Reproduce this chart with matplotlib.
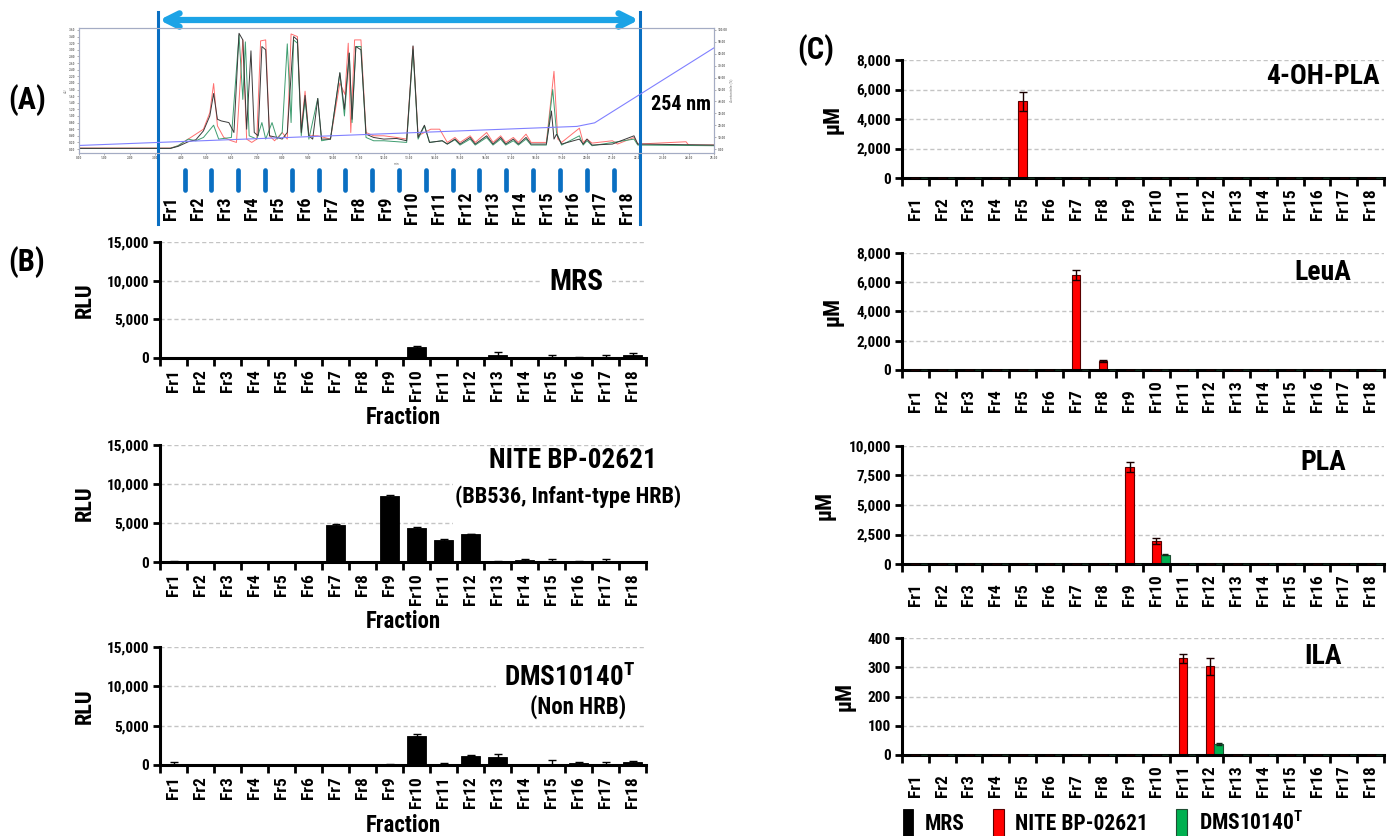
import numpy as np
import matplotlib
matplotlib.use('Agg')
import matplotlib.pyplot as plt
from matplotlib import font_manager
from matplotlib.ticker import FuncFormatter
from matplotlib.transforms import blended_transform_factory
from matplotlib.patches import Rectangle

# ---- pick a condensed bold sans if one is installed ----
fm = font_manager.fontManager
names = {f.name for f in fm.ttflist}
main_font, stretch, S = None, 'normal', 1.0
for cand, sc in [('Liberation Sans Narrow', 1.0), ('Arial Narrow', 1.0), ('Nimbus Sans Narrow', 1.0),
                 ('Roboto Condensed', 1.0), ('Open Sans Condensed', 1.0),
                 ('Noto Sans Condensed', 0.95), ('DejaVu Sans Condensed', 0.8)]:
    if cand in names:
        main_font, S = cand, sc
        break
if main_font is None:
    for fam, sc in [('Roboto', 1.0), ('Noto Sans', 0.95), ('Open Sans', 0.95), ('DejaVu Sans', 0.8)]:
        cond = [f for f in fm.ttflist if f.name == fam and
                str(f.stretch) in ('condensed', 'semi-condensed', 'extra-condensed')]
        if cond:
            main_font, stretch, S = fam, cond[0].stretch, sc
            break
if main_font is None:
    main_font, S = 'Liberation Sans', 0.86
plt.rcParams['font.family'] = [main_font, 'DejaVu Sans']
plt.rcParams['font.stretch'] = stretch
plt.rcParams['font.weight'] = 'bold'
plt.rcParams['axes.labelweight'] = 'bold'
plt.rcParams['mathtext.default'] = 'regular'

# ---------------- data ----------------
fractions = ['Fr1', 'Fr2', 'Fr3', 'Fr4', 'Fr5', 'Fr6', 'Fr7', 'Fr8', 'Fr9',
             'Fr10', 'Fr11', 'Fr12', 'Fr13', 'Fr14', 'Fr15', 'Fr16', 'Fr17', 'Fr18']

# (A) HPLC chromatogram at 254 nm (vertices)
black_t = [0, 3.6, 3.9, 4.3, 4.6, 4.9, 5.15, 5.3, 5.45, 5.6, 5.9, 6.1, 6.3, 6.45, 6.6, 6.77, 6.9, 7.05, 7.2, 7.35,
           7.5, 7.8, 8.0, 8.2, 8.45, 8.6, 8.75, 8.9, 9.05, 9.2, 9.4, 9.55, 9.9, 10.27, 10.45, 10.64, 10.75, 10.9, 11.1, 11.3,
           11.6, 12.0, 12.5, 12.9, 13.15, 13.35, 13.6, 13.8, 14.3, 14.5, 14.8, 15.0, 15.4, 15.6, 16.05, 16.3, 16.6, 16.8, 17.1, 17.3,
           17.6, 17.8, 18.4, 18.6, 18.7, 18.8, 19.0, 19.7, 19.85, 20.0, 20.2, 21.0, 21.85, 22.0, 25.0]
black_v = [0.02, 0.02, 0.08, 0.22, 0.28, 0.55, 1.0, 1.68, 0.9, 0.85, 0.8, 0.5, 3.5, 3.3, 0.6, 2.97, 0.5, 0.4, 3.1, 3.0,
           0.4, 0.35, 0.3, 0.5, 3.4, 3.3, 0.5, 1.62, 0.4, 0.3, 1.53, 0.3, 0.3, 2.31, 1.2, 2.9, 0.9, 3.1, 3.0, 0.45,
           0.35, 0.3, 0.32, 0.25, 3.12, 0.35, 0.72, 0.2, 0.25, 0.15, 0.3, 0.15, 0.35, 0.15, 0.4, 0.15, 0.35, 0.15, 0.3, 0.15,
           0.35, 0.15, 0.15, 1.15, 0.3, 0.45, 0.15, 0.3, 0.15, 0.3, 0.12, 0.15, 0.4, 0.15, 0.12]
red_t = [0, 3.6, 3.9, 4.3, 4.6, 4.9, 5.15, 5.3, 5.45, 5.7, 6.0, 6.2, 6.45, 6.6, 6.8, 7.0, 7.15, 7.35, 7.5, 7.7,
         8.0, 8.2, 8.35, 8.6, 8.75, 8.9, 9.05, 9.4, 9.9, 10.27, 10.47, 10.6, 10.7, 10.85, 11.1, 11.3, 11.6, 12.0, 12.5, 12.9,
         13.15, 13.35, 13.6, 13.85, 14.2, 14.5, 14.8, 15.0, 15.4, 15.6, 16.05, 16.3, 16.6, 16.8, 17.1, 17.3, 17.6, 17.8, 18.4, 18.7,
         18.85, 19.0, 19.7, 19.85, 20.0, 20.2, 21.0, 21.2, 21.85, 22.0, 23.9, 24.0, 25.0]
red_v = [0.03, 0.03, 0.1, 0.3, 0.45, 0.6, 1.1, 1.98, 0.7, 0.35, 0.25, 0.2, 3.3, 0.3, 0.2, 0.3, 3.27, 3.3, 0.4, 0.25,
         0.5, 0.3, 3.48, 3.4, 0.6, 1.75, 0.4, 0.4, 0.3, 2.0, 1.65, 3.2, 0.5, 3.3, 3.3, 0.5, 0.4, 0.4, 0.35, 0.3,
         3.1, 0.4, 0.5, 0.6, 0.6, 0.2, 0.35, 0.2, 0.4, 0.2, 0.5, 0.2, 0.4, 0.2, 0.35, 0.2, 0.45, 0.2, 0.2, 2.35,
         0.3, 0.2, 0.63, 0.2, 0.3, 0.18, 0.25, 0.15, 0.35, 0.15, 0.22, 0.12, 0.12]
green_t = [0, 3.6, 3.9, 4.3, 4.6, 4.9, 5.3, 5.5, 6.0, 6.3, 6.45, 6.55, 6.7, 7.0, 7.2, 7.35, 7.6, 7.8, 8.0, 8.2,
           8.35, 8.45, 8.6, 8.75, 8.9, 9.05, 9.4, 9.55, 9.9, 10.27, 10.45, 10.64, 10.75, 10.9, 11.1, 11.3, 11.6, 12.0, 12.9, 13.15,
           13.35, 13.6, 13.8, 14.3, 14.5, 14.8, 15.0, 15.4, 15.6, 16.05, 16.3, 16.6, 16.8, 17.1, 17.3, 17.6, 17.8, 18.4, 18.65, 18.8,
           19.0, 19.7, 19.85, 20.0, 20.2, 21.85, 22.0, 25.0]
green_v = [0.02, 0.02, 0.1, 0.3, 0.25, 0.35, 0.72, 0.3, 0.35, 3.45, 1.5, 3.24, 0.4, 0.3, 0.8, 0.3, 0.8, 0.3, 0.5, 3.18,
           0.8, 3.3, 3.2, 0.4, 1.5, 0.3, 1.53, 0.25, 0.3, 2.3, 1.0, 2.9, 0.8, 3.1, 3.1, 0.35, 0.25, 0.25, 0.2, 3.0,
           0.3, 0.7, 0.2, 0.25, 0.15, 0.28, 0.12, 0.3, 0.12, 0.35, 0.12, 0.3, 0.12, 0.25, 0.12, 0.3, 0.12, 0.12, 1.8, 0.5,
           0.12, 0.4, 0.12, 0.25, 0.1, 0.3, 0.12, 0.1]
grad_t = [0, 19.6, 20.3, 25.0]
grad_pct = [3, 19, 22, 85]
frac_start_min = 3.1
frac_end_min = 22.1

# (B) reporter activity (RLU)
rlu_mrs = [0, 0, 0, 0, 0, 0, 0, 0, 0, 1400, 0, 0, 350, 0, 50, 100, 100, 450]
rlu_mrs_err = [0, 0, 0, 0, 0, 0, 0, 0, 0, 200, 0, 0, 420, 0, 350, 50, 350, 200]
rlu_nite = [80, 0, 0, 0, 0, 0, 4700, 0, 8450, 4400, 2850, 3550, 80, 250, 80, 60, 80, 0]
rlu_nite_err = [50, 0, 0, 0, 0, 0, 200, 0, 200, 150, 150, 0, 50, 100, 350, 50, 300, 0]
rlu_dms = [100, 0, 0, 0, 0, 0, 0, 0, 50, 3750, 150, 1180, 1000, 0, 80, 250, 50, 350]
rlu_dms_err = [250, 0, 0, 0, 0, 0, 0, 0, 50, 150, 100, 50, 450, 0, 500, 150, 300, 150]

# (C) metabolite concentrations (uM): MRS / NITE BP-02621 / DMS10140T
ohpla_mrs = [0] * 18
ohpla_nite = [0, 0, 0, 0, 5200, 0, 0, 0, 0, 0, 0, 0, 0, 0, 0, 0, 0, 0]
ohpla_nite_err = [0, 0, 0, 0, 650, 0, 0, 0, 0, 0, 0, 0, 0, 0, 0, 0, 0, 0]
ohpla_dms = [0] * 18
leua_mrs = [0, 0, 0, 0, 0, 0, 60, 0, 0, 0, 0, 0, 0, 0, 0, 0, 0, 0]
leua_nite = [0, 0, 0, 0, 0, 0, 6500, 600, 0, 0, 0, 0, 0, 0, 0, 0, 0, 0]
leua_nite_err = [0, 0, 0, 0, 0, 0, 340, 60, 0, 0, 0, 0, 0, 0, 0, 0, 0, 0]
leua_dms = [0] * 18
pla_mrs = [0] * 18
pla_nite = [0, 0, 0, 0, 0, 0, 0, 0, 8250, 1950, 0, 0, 0, 0, 0, 0, 0, 0]
pla_nite_err = [0, 0, 0, 0, 0, 0, 0, 0, 420, 250, 0, 0, 0, 0, 0, 0, 0, 0]
pla_dms = [0, 0, 0, 0, 0, 0, 0, 0, 0, 800, 0, 0, 0, 0, 0, 0, 0, 0]
pla_dms_err = [0, 0, 0, 0, 0, 0, 0, 0, 0, 60, 0, 0, 0, 0, 0, 0, 0, 0]
ila_mrs = [0] * 18
ila_nite = [0, 0, 0, 0, 0, 0, 0, 0, 0, 0, 330, 303, 0, 0, 0, 0, 0, 0]
ila_nite_err = [0, 0, 0, 0, 0, 0, 0, 0, 0, 0, 15, 30, 0, 0, 0, 0, 0, 0]
ila_dms = [0, 0, 0, 0, 0, 0, 0, 0, 0, 0, 0, 37, 0, 0, 0, 0, 0, 0]
ila_dms_err = [0, 0, 0, 0, 0, 0, 0, 0, 0, 0, 0, 3, 0, 0, 0, 0, 0, 0]

# ---------------- figure ----------------
W, H = 1397, 836
fig = plt.figure(figsize=(W / 100, H / 100), dpi=100)


def px_axes(x0, y0, x1, y1):
    return fig.add_axes([x0 / W, 1 - y1 / H, (x1 - x0) / W, (y1 - y0) / H])


def fmt_thousands(v, p):
    return f'{int(round(v)):,}'


x = np.arange(len(fractions))
BLUE = '#0a6fc2'

# ---- (A) chromatogram ----
A_top, A_bot = 28, 153
axA = px_axes(79, A_top, 714, A_bot)
axA.plot(red_t, red_v, color='#ff6f6f', lw=0.7, zorder=2)
axA.plot(green_t, green_v, color='#3f9d70', lw=0.7, zorder=2)
axA.plot(black_t, black_v, color='#3a3a3a', lw=0.7, zorder=3)
axA.set_xlim(0, 25)
axA.set_ylim(-0.12, 3.66)
axA.set_xticks(np.arange(0, 25.01, 1.0))
axA.xaxis.set_major_formatter(FuncFormatter(lambda v, p: f'{v:.2f}'))
axA.set_yticks(np.arange(0, 3.61, 0.2))
axA.yaxis.set_major_formatter(FuncFormatter(lambda v, p: f'{v:.2f}'))
axA.tick_params(labelsize=2.6, length=1.5, width=0.4, colors='#777777', pad=1)
axA.set_xlabel('min', fontsize=2.8, color='#777777', labelpad=1, fontweight='normal')
axA.set_ylabel('AU', fontsize=2.8, color='#777777', labelpad=1, fontweight='normal')
axA2 = axA.twinx()
axA2.plot(grad_t, grad_pct, color='#8080ff', lw=0.8)
axA2.set_ylim(-0.12 / 3.6 * 100, 3.66 / 3.6 * 100)
axA2.set_yticks(np.arange(0, 100.1, 10))
axA2.yaxis.set_major_formatter(FuncFormatter(lambda v, p: f'{v:.2f}'))
axA2.tick_params(labelsize=2.6, length=1.5, width=0.4, colors='#777777', pad=1)
axA2.set_ylabel('Acetonitrile (%)', fontsize=2.8, color='#777777', labelpad=1, fontweight='normal')
for a in (axA, axA2):
    for sp in a.spines.values():
        sp.set_color('#a4acc4')
        sp.set_linewidth(0.8)

trA = blended_transform_factory(axA.transData, axA.transAxes)


def yA(ypx):
    return (A_bot - ypx) / (A_bot - A_top)


for tb in (frac_start_min, frac_end_min):
    axA.plot([tb, tb], [yA(12), yA(224)], transform=trA, color=BLUE, lw=2.2,
             clip_on=False, zorder=6)
bounds = np.linspace(frac_start_min, frac_end_min, len(fractions) + 1)
for tb in bounds[1:-1]:
    axA.plot([tb, tb], [yA(170), yA(190)], transform=trA, color=BLUE, lw=3.4,
             solid_capstyle='round', clip_on=False, zorder=6)
centers = (bounds[:-1] + bounds[1:]) / 2
for c, lab in zip(centers, fractions):
    axA.text(c, yA(208), lab, transform=trA, rotation=90, ha='center', va='center',
             fontsize=13 * S)
axA.annotate('', xy=(frac_end_min - 0.06, yA(20)), xytext=(frac_start_min + 0.06, yA(20)),
             xycoords=trA, textcoords=trA, annotation_clip=False,
             arrowprops=dict(arrowstyle='<->', color='#1ca3e6', lw=4.5, mutation_scale=24,
                             shrinkA=0, shrinkB=0, joinstyle='round', capstyle='round'))
axA.text(23.7, yA(104), '254 nm', transform=trA, ha='center', va='center',
         fontsize=14.5 * S, zorder=7)


# ---- helpers for bar panels ----
def style_bar_axes(ax, ymax, ystep, ylab):
    ax.set_xlim(-0.5, len(fractions) - 0.5)
    ax.set_ylim(0, ymax)
    ax.set_yticks(np.arange(0, ymax + 0.1, ystep))
    ax.yaxis.set_major_formatter(FuncFormatter(fmt_thousands))
    for s in ('top', 'right'):
        ax.spines[s].set_visible(False)
    for s in ('left', 'bottom'):
        ax.spines[s].set_linewidth(2.2)
    ax.tick_params(axis='y', length=5, width=2, labelsize=11 * S, pad=3)
    ax.set_xticks(x)
    ax.set_xticks(np.arange(-0.5, len(fractions), 1), minor=True)
    ax.tick_params(axis='x', which='major', length=0)
    ax.tick_params(axis='x', which='minor', length=6, width=2)
    ax.yaxis.grid(True, color='#c4c4c4', ls=(0, (3, 2)), lw=1.0, zorder=0.5)
    ax.set_axisbelow(True)
    ax.set_ylabel(ylab, fontsize=16 * S, labelpad=8)


def lower_err(vals, errs):
    return [min(v, e) for v, e in zip(vals, errs)]


# ---- (B) ----
B_boxes = [(160, 242, 646, 358), (160, 445, 646, 562), (160, 647, 646, 765)]
B_vals = [(rlu_mrs, rlu_mrs_err), (rlu_nite, rlu_nite_err), (rlu_dms, rlu_dms_err)]
for (bx, (vals, errs)) in zip(B_boxes, B_vals):
    ax = px_axes(*bx)
    style_bar_axes(ax, 15000, 5000, 'RLU')
    ax.bar(x, vals, width=0.74, color='black', edgecolor='black', lw=0.6, zorder=2,
           yerr=[lower_err(vals, errs), errs], capsize=3,
           error_kw=dict(ecolor='black', elinewidth=1.0, capthick=1.0, zorder=3))
    ax.set_xticklabels(fractions, rotation=90, fontsize=12.5 * S)
    ax.tick_params(axis='x', which='major', pad=8)
    ax.text(0.5, -(60 / (bx[3] - bx[1])), 'Fraction', transform=ax.transAxes,
            ha='center', va='center', fontsize=16.5 * S)
    if vals is rlu_mrs:
        ax.text(0.856, 0.655, 'MRS', transform=ax.transAxes, ha='center', va='center',
                fontsize=21 * S, zorder=4,
                bbox=dict(boxstyle='square,pad=0.3', fc='white', ec='none'))
    elif vals is rlu_nite:
        ax.add_patch(Rectangle((0.603, 0.27), 0.42, 0.67, transform=ax.transAxes,
                               fc='white', ec='none', zorder=0.8, clip_on=False))
        ax.text(0.849, 0.87, 'NITE BP-02621', transform=ax.transAxes, ha='center',
                va='center', fontsize=19.5 * S, zorder=4)
        ax.text(0.84, 0.555, '(BB536, Infant-type HRB)', transform=ax.transAxes,
                ha='center', va='center', fontsize=16 * S, zorder=4)
    else:
        ax.add_patch(Rectangle((0.691, 0.38), 0.33, 0.55, transform=ax.transAxes,
                               fc='white', ec='none', zorder=0.8, clip_on=False))
        ax.text(0.842, 0.737, 'DMS10140$^{T}$', transform=ax.transAxes, ha='center',
                va='center', fontsize=19.5 * S, zorder=4)
        ax.text(0.86, 0.49, '(Non HRB)', transform=ax.transAxes, ha='center',
                va='center', fontsize=16.5 * S, zorder=4)

# ---- (C) ----
C_boxes = [(902, 60, 1384, 178), (902, 253, 1384, 370), (902, 446, 1384, 564), (902, 638, 1384, 755)]
C_title_y = [76, 273, 463, 657]
C_sets = [
    ('4-OH-PLA', 8000, 2000, ohpla_mrs, ohpla_nite, ohpla_nite_err, ohpla_dms, [0] * 18),
    ('LeuA', 8000, 2000, leua_mrs, leua_nite, leua_nite_err, leua_dms, [0] * 18),
    ('PLA', 10000, 2500, pla_mrs, pla_nite, pla_nite_err, pla_dms, pla_dms_err),
    ('ILA', 400, 100, ila_mrs, ila_nite, ila_nite_err, ila_dms, ila_dms_err),
]
bw = 0.32
handles = None
for bx, ty, (title, ymax, ystep, m, n, ne, d, de) in zip(C_boxes, C_title_y, C_sets):
    ax = px_axes(*bx)
    style_bar_axes(ax, ymax, ystep, 'μM')
    ax.set_ylabel('μM', fontsize=16 * S, labelpad=9)
    h1 = ax.bar(x - 0.33, m, width=bw, color='black', edgecolor='black', lw=0.6, zorder=2)
    h2 = ax.bar(x, n, width=bw, color='#ff0000', edgecolor='#5a0000', lw=0.8, zorder=2,
                yerr=ne, capsize=3,
                error_kw=dict(ecolor='#1a0000', elinewidth=1.0, capthick=1.0, zorder=3))
    h3 = ax.bar(x + 0.33, d, width=bw, color='#00b050', edgecolor='#1f4d33', lw=0.8, zorder=2,
                yerr=de, capsize=2.5,
                error_kw=dict(ecolor='#102a1a', elinewidth=1.0, capthick=1.0, zorder=3))
    handles = (h1, h2, h3)
    ax.set_xticklabels([])
    trC = blended_transform_factory(ax.transData, ax.transAxes)
    for i, lab in enumerate(fractions):
        ax.annotate(lab, xy=(i, 0), xycoords=trC, xytext=(0, -42 * 0.72),
                    textcoords='offset points', rotation=90, ha='center', va='bottom',
                    fontsize=12.5 * S, annotation_clip=False)
    ax.text(0.873, (bx[3] - ty) / (bx[3] - bx[1]), title, transform=ax.transAxes,
            ha='center', va='center', fontsize=20 * S, zorder=4)

fig.legend(handles, ['MRS', 'NITE BP-02621', 'DMS10140$^{T}$'], loc='center',
           bbox_to_anchor=(1103 / W, 1 - 823 / H), ncol=3, frameon=False,
           fontsize=15.5 * S, handlelength=0.5, handleheight=1.6, handletextpad=0.55,
           columnspacing=1.3)

# panel letters
fig.text(27 / W, 1 - 100 / H, '(A)', ha='center', va='center', fontsize=22 * S)
fig.text(27 / W, 1 - 262 / H, '(B)', ha='center', va='center', fontsize=22 * S)
fig.text(816 / W, 1 - 50 / H, '(C)', ha='center', va='center', fontsize=22 * S)

fig.savefig('out.png', dpi=100)
